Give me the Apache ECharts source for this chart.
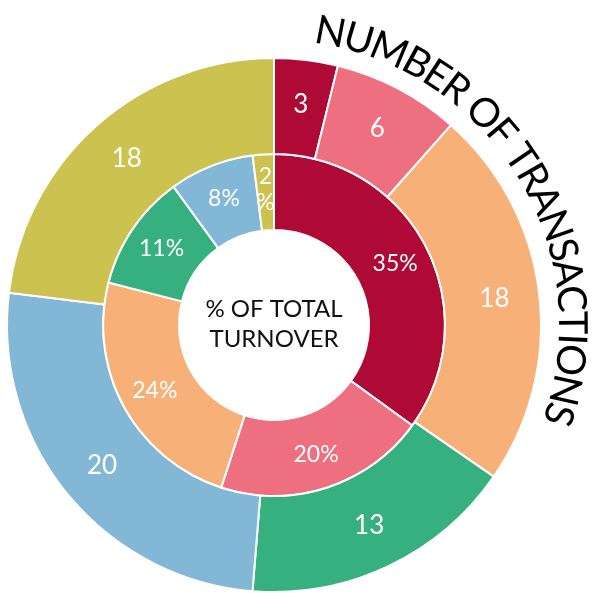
<!DOCTYPE html>
<html>
<head>
<meta charset="utf-8">
<script src="https://cdn.jsdelivr.net/npm/echarts@6/dist/echarts.min.js"></script>
<style>
  html, body { margin: 0; padding: 0; background: #fff; }
  #chart-container { width: 592px; height: 593px; }
</style>
</head>
<body>
<div id="chart-container"></div>
<script>
(function () {
    // outer ring: number of transactions
    const transactions = [3, 6, 18, 13, 20, 18];
    // inner ring: % of total turnover
    const turnover = [35, 20, 24, 11, 8, 2];
    const colors = ['#ae0a35', '#ed6f80', '#f7b077', '#36b07f', '#82b8d6', '#cbc24f'];
    const outerTitle = 'NUMBER OF TRANSACTIONS';
    const centerTitle = '% OF TOTAL\nTURNOVER';

    const FONT = 'Lato, "Open Sans", sans-serif';
    const cx = 274, cy = 325;

    const chartDom = document.getElementById('chart-container');
    const myChart = echarts.init(chartDom, null, { renderer: 'canvas' });

    // lay the title out along an arc, one glyph at a time,
    // spread so it runs from ~8deg to ~109deg clockwise from top
    const titleSize = 40;
    const titleRadius = 298;
    const arcFrom = 8 * Math.PI / 180, arcTo = 109.5 * Math.PI / 180;
    const ctx = document.createElement('canvas').getContext('2d');
    ctx.font = titleSize + 'px ' + FONT;
    const chars = Array.from(outerTitle);
    const widths = chars.map(ch => ctx.measureText(ch).width);
    const total = widths.reduce((a, b) => a + b, 0);
    const gap = ((arcTo - arcFrom) * titleRadius - total) / (chars.length - 1);
    const arcChars = [];
    let ang = arcFrom;
    chars.forEach((ch, i) => {
        const w = widths[i];
        const mid = ang + (w / 2) / titleRadius;
        arcChars.push({
            type: 'text',
            x: cx + titleRadius * Math.sin(mid),
            y: cy - titleRadius * Math.cos(mid),
            rotation: -mid,
            style: {
                text: ch,
                font: titleSize + 'px ' + FONT,
                fill: '#000',
                align: 'center',
                verticalAlign: 'middle'
            }
        });
        ang += (w + gap) / titleRadius;
    });

    const ringData = (vals) => vals.map((v, i) => ({
        value: v,
        itemStyle: { color: colors[i] }
    }));

    const option = {
        backgroundColor: '#fff',
        animation: false,
        graphic: {
            elements: arcChars.concat([{
                type: 'text',
                x: cx,
                y: cy - 1,
                style: {
                    text: centerTitle,
                    font: '24px ' + FONT,
                    lineHeight: 30,
                    fill: '#111',
                    align: 'center',
                    verticalAlign: 'middle'
                }
            }])
        },
        series: [
            {
                type: 'pie',
                center: [cx, cy],
                radius: [95, 171],
                startAngle: 90,
                clockwise: true,
                avoidLabelOverlap: false,
                itemStyle: { borderColor: '#fff', borderWidth: 2 },
                label: {
                    position: 'inside',
                    color: '#fff',
                    fontFamily: FONT,
                    fontSize: 23,
                    lineHeight: 26,
                    formatter: (p) => p.value < 5 ? p.value + '\n%' : p.value + '%'
                },
                labelLine: { show: false },
                emphasis: { disabled: true },
                data: ringData(turnover)
            },
            {
                type: 'pie',
                center: [cx, cy],
                radius: [171, 267],
                startAngle: 90,
                clockwise: true,
                avoidLabelOverlap: false,
                itemStyle: { borderColor: '#fff', borderWidth: 2 },
                label: {
                    position: 'inside',
                    color: '#fff',
                    fontFamily: FONT,
                    fontSize: 26,
                    formatter: '{c}'
                },
                labelLine: { show: false },
                emphasis: { disabled: true },
                data: ringData(transactions)
            }
        ]
    };
    myChart.setOption(option);
}());
</script>
</body>
</html>
